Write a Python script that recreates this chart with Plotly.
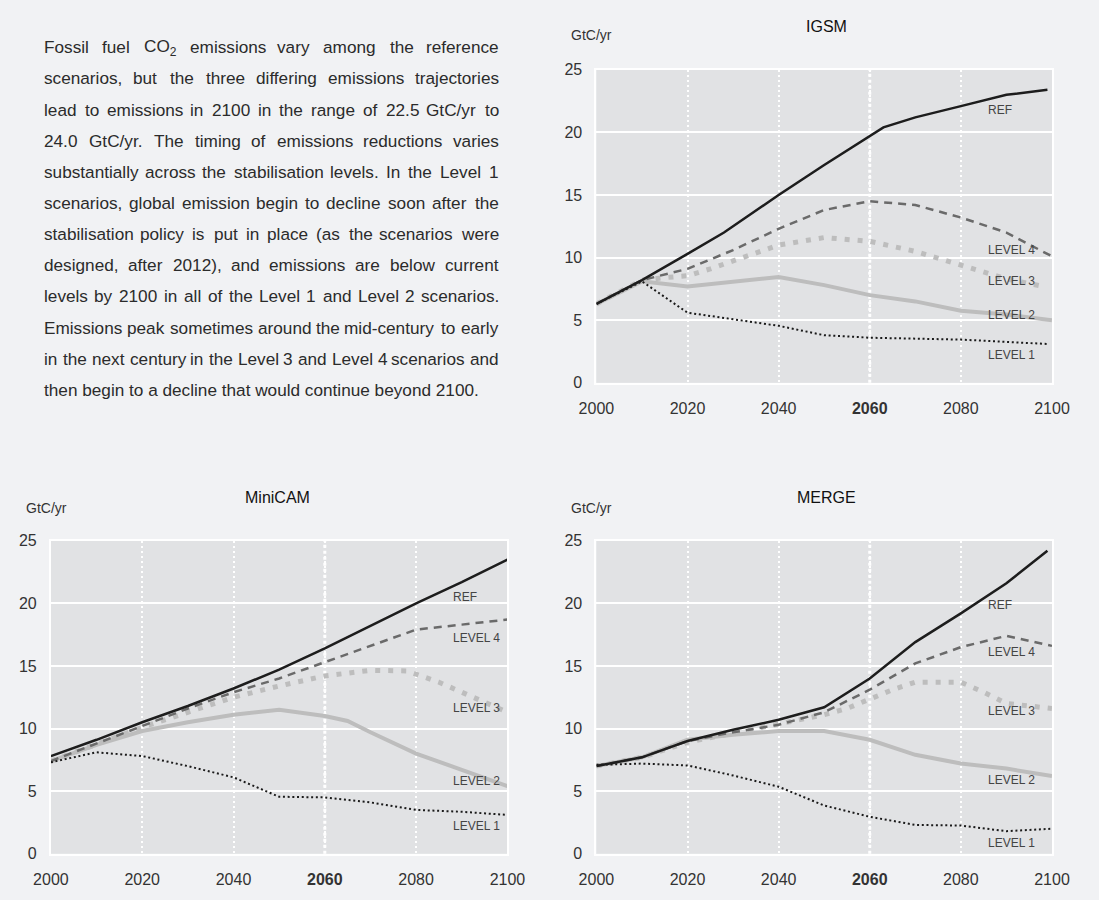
import re
import plotly.graph_objects as go

W, H = 1099, 900
FONT = "Liberation Sans, Arial, Helvetica, sans-serif"

# ---------------- data ----------------
SCENARIOS = ["REF", "LEVEL 4", "LEVEL 3", "LEVEL 2", "LEVEL 1"]
XTICKS = [2000, 2020, 2040, 2060, 2080, 2100]
XTICKTEXT = ["2000", "2020", "2040", "<b>2060</b>", "2080", "2100"]
YTICKS = [0, 5, 10, 15, 20, 25]
HIGHLIGHT_YEAR = 2060

# IGSM
IGSM_REF_X = [2000, 2010, 2020, 2028, 2040, 2050, 2063, 2070, 2080, 2090, 2099]
IGSM_REF_Y = [6.3, 8.2, 10.3, 12.0, 15.0, 17.4, 20.4, 21.2, 22.1, 23.0, 23.4]
IGSM_L4_X = [2000, 2010, 2020, 2030, 2040, 2050, 2060, 2070, 2080, 2090, 2100]
IGSM_L4_Y = [6.3, 8.2, 9.1, 10.6, 12.3, 13.8, 14.5, 14.2, 13.2, 12.0, 10.1]
IGSM_L3_X = [2000, 2010, 2015, 2020, 2025, 2030, 2040, 2050, 2060, 2070, 2080, 2090, 2098]
IGSM_L3_Y = [6.3, 8.2, 8.4, 8.55, 9.1, 9.75, 11.0, 11.6, 11.3, 10.5, 9.45, 8.3, 7.7]
IGSM_L2_X = [2000, 2010, 2020, 2040, 2050, 2060, 2070, 2080, 2090, 2100]
IGSM_L2_Y = [6.3, 8.1, 7.7, 8.45, 7.8, 7.0, 6.5, 5.75, 5.45, 5.0]
IGSM_L1_X = [2000, 2010, 2020, 2030, 2040, 2050, 2060, 2080, 2099]
IGSM_L1_Y = [6.3, 8.1, 5.6, 5.1, 4.55, 3.8, 3.6, 3.45, 3.1]

# MiniCAM
MINICAM_REF_X = [2000, 2010, 2020, 2030, 2040, 2050, 2060, 2070, 2080, 2090, 2100]
MINICAM_REF_Y = [7.8, 9.1, 10.5, 11.8, 13.2, 14.7, 16.4, 18.2, 20.0, 21.7, 23.5]
MINICAM_L4_X = [2000, 2010, 2020, 2030, 2040, 2050, 2060, 2070, 2080, 2090, 2100]
MINICAM_L4_Y = [7.4, 8.8, 10.2, 11.6, 12.9, 14.0, 15.3, 16.6, 17.9, 18.3, 18.7]
MINICAM_L3_X = [2000, 2010, 2020, 2030, 2040, 2050, 2060, 2070, 2078, 2085, 2090, 2095, 2100]
MINICAM_L3_Y = [7.4, 8.8, 10.1, 11.3, 12.5, 13.4, 14.2, 14.65, 14.6, 13.7, 12.9, 12.2, 11.3]
MINICAM_L2_X = [2000, 2010, 2020, 2030, 2040, 2050, 2060, 2065, 2070, 2080, 2090, 2100]
MINICAM_L2_Y = [7.4, 8.7, 9.8, 10.5, 11.1, 11.5, 11.0, 10.6, 9.7, 8.0, 6.7, 5.4]
MINICAM_L1_X = [2000, 2010, 2020, 2030, 2040, 2050, 2060, 2070, 2080, 2090, 2100]
MINICAM_L1_Y = [7.3, 8.1, 7.8, 7.0, 6.1, 4.55, 4.5, 4.1, 3.5, 3.35, 3.1]

# MERGE
MERGE_REF_X = [2000, 2010, 2020, 2030, 2040, 2050, 2060, 2070, 2080, 2090, 2099]
MERGE_REF_Y = [7.0, 7.7, 9.0, 9.9, 10.7, 11.7, 14.0, 16.9, 19.2, 21.6, 24.2]
MERGE_L4_X = [2000, 2010, 2020, 2030, 2040, 2050, 2060, 2070, 2080, 2090, 2100]
MERGE_L4_Y = [7.0, 7.7, 9.0, 9.7, 10.3, 11.3, 13.1, 15.2, 16.5, 17.4, 16.6]
MERGE_L3_X = [2000, 2010, 2020, 2030, 2040, 2050, 2055, 2060, 2065, 2070, 2080, 2085, 2090, 2100]
MERGE_L3_Y = [7.0, 7.7, 8.9, 9.6, 10.4, 11.1, 11.6, 12.4, 13.1, 13.7, 13.7, 12.9, 12.0, 11.6]
MERGE_L2_X = [2000, 2010, 2020, 2030, 2040, 2050, 2060, 2070, 2080, 2090, 2100]
MERGE_L2_Y = [7.0, 7.7, 9.1, 9.5, 9.8, 9.8, 9.1, 7.9, 7.2, 6.8, 6.2]
MERGE_L1_X = [2000, 2010, 2020, 2030, 2040, 2050, 2060, 2070, 2080, 2090, 2100]
MERGE_L1_Y = [7.1, 7.2, 7.05, 6.25, 5.35, 3.85, 2.95, 2.3, 2.25, 1.8, 2.0]

TEXT_LINES = [
    "Fossil fuel CO<sub>2</sub> emissions vary among the reference",
    "scenarios, but the three differing emissions trajectories",
    "lead to emissions in 2100 in the range of 22.5 GtC/yr to",
    "24.0 GtC/yr. The timing of emissions reductions varies",
    "substantially across the stabilisation levels. In the Level 1",
    "scenarios, global emission begin to decline soon after the",
    "stabilisation policy is put in place (as the scenarios were",
    "designed, after 2012), and emissions are below current",
    "levels by 2100 in all of the Level 1 and Level 2 scenarios.",
    "Emissions peak sometimes around the mid-century to early",
    "in the next century in the Level 3 and Level 4 scenarios and",
    "then begin to a decline that would continue beyond 2100.",
]

# ---------------- layout geometry (pixels) ----------------
PANELS = [
    dict(name="IGSM", x0=598, x1=1069, y0=63, y1=382, title_x=836, title_y=19, unit_x=572, unit_y=28,
         label_x=2086, label_y=[21.8, 10.6, 8.1, 5.45, 2.25],
         series=[(IGSM_REF_X, IGSM_REF_Y), (IGSM_L4_X, IGSM_L4_Y), (IGSM_L3_X, IGSM_L3_Y),
                 (IGSM_L2_X, IGSM_L2_Y), (IGSM_L1_X, IGSM_L1_Y)]),
    dict(name="MiniCAM", x0=34, x1=506, y0=543, y1=862, title_x=268, title_y=499, unit_x=8, unit_y=510,
         label_x=2088, label_y=[20.5, 17.2, 11.65, 5.8, 2.25],
         series=[(MINICAM_REF_X, MINICAM_REF_Y), (MINICAM_L4_X, MINICAM_L4_Y), (MINICAM_L3_X, MINICAM_L3_Y),
                 (MINICAM_L2_X, MINICAM_L2_Y), (MINICAM_L1_X, MINICAM_L1_Y)]),
    dict(name="MERGE", x0=598, x1=1069, y0=543, y1=862, title_x=836, title_y=499, unit_x=572, unit_y=510,
         label_x=2086, label_y=[19.9, 16.15, 11.4, 5.9, 0.85],
         series=[(MERGE_REF_X, MERGE_REF_Y), (MERGE_L4_X, MERGE_L4_Y), (MERGE_L3_X, MERGE_L3_Y),
                 (MERGE_L2_X, MERGE_L2_Y), (MERGE_L1_X, MERGE_L1_Y)]),
]

STYLES = {
    "REF": dict(color="#1d1d1d", width=2.5, dash="solid"),
    "LEVEL 4": dict(color="#6a6a6a", width=2.5, dash="8px,6px"),
    "LEVEL 3": dict(color="#bdbdbd", width=5, dash="5px,8px"),
    "LEVEL 2": dict(color="#bdbdbd", width=4, dash="solid"),
    "LEVEL 1": dict(color="#1a1a1a", width=2, dash="2px,2.7px"),
}
DRAW_ORDER = ["LEVEL 2", "LEVEL 3", "LEVEL 4", "LEVEL 1", "REF"]

PAPER_BG = "#f1f2f4"
PLOT_BG = "#e1e2e4"
TEXT_COLOR = "#2b2b2b"
TICK_SIZE = 16
LABEL_SIZE = 12
UNIT_SIZE = 14
TITLE_SIZE = 16

fig = go.Figure()
layout = dict(
    width=W, height=H, margin=dict(l=0, r=0, t=0, b=0),
    paper_bgcolor=PAPER_BG, plot_bgcolor=PLOT_BG,
    font=dict(family=FONT, color=TEXT_COLOR),
    showlegend=False, annotations=[], shapes=[],
)

def px_x(x):
    return x / W

def px_y(y):
    return 1 - y / H

for i, p in enumerate(PANELS):
    sfx = "" if i == 0 else str(i + 1)
    xa, ya = "x" + sfx, "y" + sfx
    layout["xaxis" + sfx] = dict(
        domain=[px_x(p["x0"]), px_x(p["x1"])], anchor=ya, range=[2000, 2100],
        tickvals=XTICKS, ticktext=XTICKTEXT, showgrid=True, gridcolor="white",
        gridwidth=1.5, griddash="2px,3px", showline=True, mirror=True,
        linecolor="white", linewidth=2, zeroline=False, ticks="",
        tickfont=dict(size=TICK_SIZE, color="#333333", family=FONT), ticklabelstandoff=10,
        fixedrange=True,
    )
    layout["yaxis" + sfx] = dict(
        domain=[px_y(p["y1"]), px_y(p["y0"])], anchor=xa, range=[0, 25],
        tickvals=YTICKS, showgrid=True, gridcolor="white", gridwidth=1.5,
        showline=True, mirror=True, linecolor="white", linewidth=2,
        zeroline=False, ticks="", tickfont=dict(size=TICK_SIZE, color="#333333", family=FONT),
        ticklabelstandoff=9, fixedrange=True,
    )
    # thicker highlighted vertical grid line
    layout["shapes"].append(dict(
        type="line", xref=xa, yref=ya + " domain", x0=HIGHLIGHT_YEAR, x1=HIGHLIGHT_YEAR,
        y0=0, y1=1, line=dict(color="white", width=3, dash="3px,3px"), layer="below"))

    series = dict(zip(SCENARIOS, p["series"]))
    for name in DRAW_ORDER:
        xs, ys = series[name]
        st = STYLES[name]
        fig.add_trace(go.Scatter(
            x=xs, y=ys, mode="lines", name=name, xaxis=xa, yaxis=ya,
            line=dict(color=st["color"], width=st["width"], dash=st["dash"]),
            hoverinfo="skip"))
    for name, ly in zip(SCENARIOS, p["label_y"]):
        layout["annotations"].append(dict(
            x=p["label_x"], y=ly, xref=xa, yref=ya, text=name, showarrow=False,
            xanchor="left", yanchor="middle", borderpad=0, borderwidth=0,
            font=dict(size=LABEL_SIZE, color="#444444", family=FONT)))
    layout["annotations"].append(dict(
        x=px_x(p["title_x"]), y=px_y(p["title_y"]), xref="paper", yref="paper",
        text=p["name"], showarrow=False, xanchor="center", yanchor="middle",
        font=dict(size=TITLE_SIZE, color="#111111", family=FONT)))
    layout["annotations"].append(dict(
        x=px_x(p["unit_x"]), y=px_y(p["unit_y"]), xref="paper", yref="paper",
        text="GtC/yr", showarrow=False, xanchor="left", yanchor="middle",
        borderpad=0, borderwidth=0,
        font=dict(size=UNIT_SIZE, color="#333333", family=FONT)))

# ---------------- justified paragraph ----------------
ARIAL = {" ": 278, "(": 333, ")": 333, ",": 278, "-": 333, ".": 278, "/": 278, ":": 278}
for c in "0123456789":
    ARIAL[c] = 556
ARIAL.update(dict(zip("ABCDEFGHIJKLMNOPQRSTUVWXYZ",
                      [667, 667, 722, 722, 667, 611, 778, 722, 278, 500, 667, 556, 833,
                       722, 778, 667, 778, 722, 667, 611, 722, 667, 944, 667, 667, 611])))
ARIAL.update(dict(zip("abcdefghijklmnopqrstuvwxyz",
                      [556, 556, 500, 556, 556, 278, 556, 556, 222, 222, 500, 222, 833,
                       556, 556, 556, 556, 333, 500, 278, 556, 500, 722, 500, 500, 500])))

TXT_SIZE = 17.2
TXT_LEFT, TXT_RIGHT = 27, 497
TXT_TOP, TXT_STEP = 40, 31.75


def word_width(w):
    total = 0.0
    for m in re.finditer(r"<sub>(.*?)</sub>|([^<]+)", w):
        if m.group(1) is not None:
            total += 0.7 * sum(ARIAL.get(c, 556) for c in m.group(1))
        else:
            total += sum(ARIAL.get(c, 556) for c in m.group(2))
    return total / 1000 * TXT_SIZE


for li, line in enumerate(TEXT_LINES):
    ypx = TXT_TOP + li * TXT_STEP
    if li == len(TEXT_LINES) - 1:
        layout["annotations"].append(dict(
            x=px_x(TXT_LEFT), y=px_y(ypx), xref="paper", yref="paper", text=line,
            showarrow=False, xanchor="left", yanchor="middle", borderpad=0, borderwidth=0,
            font=dict(size=TXT_SIZE, color=TEXT_COLOR, family=FONT)))
        continue
    words = line.split(" ")
    widths = [word_width(w) for w in words]
    n = len(words)
    gap = (TXT_RIGHT - TXT_LEFT - sum(widths)) / (n - 1)
    for wi, w in enumerate(words):
        if wi < n / 2:
            xpos = TXT_LEFT + sum(widths[:wi]) + wi * gap
            anchor = "left"
        else:
            xpos = TXT_RIGHT - sum(widths[wi + 1:]) - (n - 1 - wi) * gap
            anchor = "right"
        layout["annotations"].append(dict(
            x=px_x(xpos), y=px_y(ypx), xref="paper", yref="paper", text=w,
            showarrow=False, xanchor=anchor, yanchor="middle", borderpad=0, borderwidth=0,
            font=dict(size=TXT_SIZE, color=TEXT_COLOR, family=FONT)))

fig.update_layout(**layout)
fig.write_html(
    "out.html",
    config={"displayModeBar": False},
    post_script="document.body.style.margin='0';document.body.style.background='%s';" % PAPER_BG,
)
